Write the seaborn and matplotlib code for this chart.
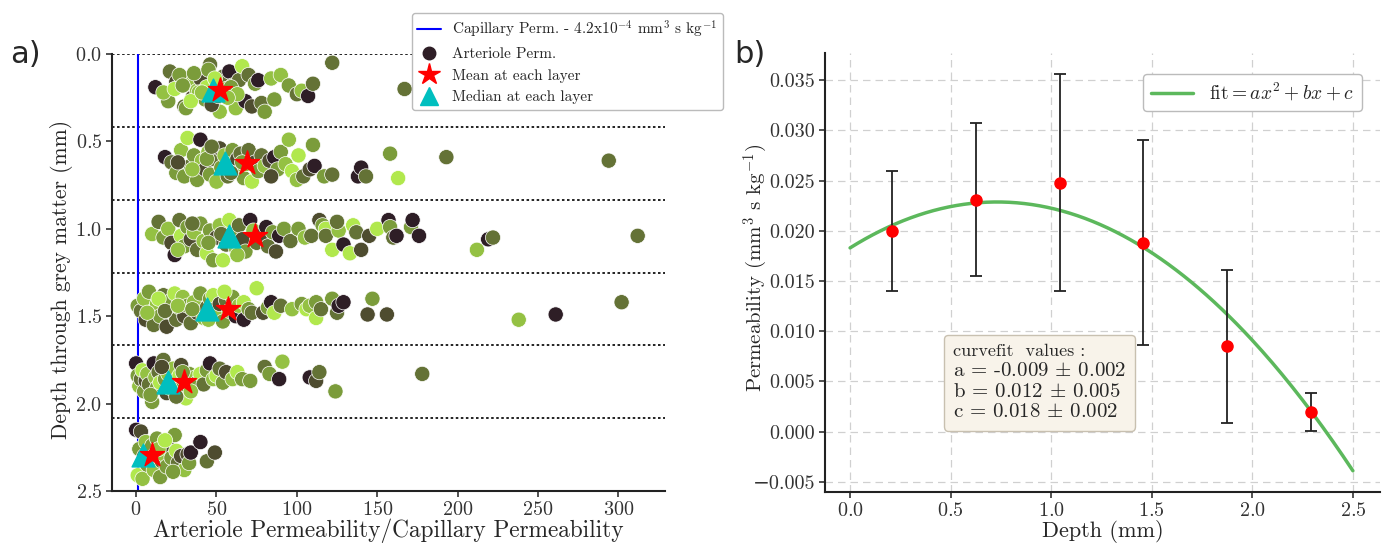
import numpy as np
import pandas as pd
import matplotlib
matplotlib.use("Agg")
import matplotlib.pyplot as plt
from matplotlib.lines import Line2D
from matplotlib.ticker import MultipleLocator
from matplotlib.offsetbox import TextArea, VPacker, AnchoredOffsetbox
import seaborn as sns

# ---- data ----
# layer points: (ratio, depth in mm, shade index 0=darkest..5=lightest)
layer1 = [(12,0.19,0),(21,0.10,2),(20,0.27,3),(25,0.16,1),(17,0.22,4),(28,0.13,3),(30,0.30,2),(24,0.20,5),
          (33,0.17,4),(35,0.25,1),(27,0.12,3),(38,0.21,4),(40,0.14,1),(31,0.31,3),(42,0.24,2),(44,0.19,5),
          (36,0.11,3),(46,0.06,2),(48,0.28,3),(39,0.22,4),(50,0.16,1),(52,0.33,4),(43,0.26,3),(54,0.13,2),
          (56,0.20,4),(47,0.29,1),(58,0.10,0),(60,0.18,3),(51,0.24,2),(62,0.31,4),(64,0.15,2),(55,0.22,4),
          (66,0.07,5),(68,0.27,0),(59,0.19,3),(70,0.12,2),(72,0.30,1),(74,0.17,3),(63,0.23,4),(76,0.15,0),
          (78,0.28,2),(80,0.33,3),(84,0.14,4),(86,0.26,3),(90,0.12,4),(95,0.18,3),(100,0.23,2),(103,0.21,4),
          (107,0.24,0),(110,0.17,2),(122,0.05,2),(167,0.20,2),(45,0.09,3),(34,0.27,5),(29,0.18,3),(57,0.25,4),
          (49,0.14,5),(41,0.22,4)]
layer2 = [(18,0.59,0),(22,0.62,2),(25,0.68,3),(28,0.55,4),(30,0.70,3),(32,0.48,5),(34,0.64,2),(36,0.58,3),
          (38,0.72,3),(40,0.49,0),(41,0.61,4),(43,0.66,1),(45,0.56,4),(46,0.69,3),(48,0.60,2),(50,0.73,4),
          (52,0.54,1),(53,0.65,3),(55,0.58,4),(57,0.70,2),(58,0.62,5),(60,0.55,3),(62,0.67,4),(63,0.60,1),
          (65,0.57,2),(67,0.71,3),(68,0.63,4),(70,0.55,2),(72,0.73,5),(74,0.62,1),(76,0.67,3),(78,0.58,2),
          (80,0.64,4),(83,0.61,1),(86,0.59,0),(88,0.66,3),(90,0.56,3),(93,0.63,4),(95,0.49,4),(97,0.67,5),
          (100,0.72,4),(101,0.58,5),(104,0.70,2),(108,0.66,1),(110,0.52,3),(111,0.64,0),(117,0.70,3),
          (122,0.69,2),(138,0.70,0),(140,0.65,0),(143,0.70,2),(158,0.57,3),(163,0.71,5),(193,0.59,2),
          (294,0.61,2),(26,0.62,1),(35,0.66,4),(44,0.60,3),(47,0.53,2),(59,0.68,2),(66,0.62,3),(84,0.70,1)]
layer3 = [(10,1.03,4),(14,0.96,2),(17,1.05,3),(20,1.00,4),(22,1.08,1),(24,1.15,0),(27,0.95,2),(28,1.04,5),
          (30,1.10,3),(32,0.99,3),(34,1.06,1),(36,1.02,4),(38,1.12,2),(40,0.97,3),(42,1.07,4),(44,1.14,5),
          (46,1.01,3),(48,1.18,3),(50,1.05,1),(52,0.98,4),(54,1.18,5),(56,1.09,2),(58,0.95,5),(60,1.03,3),
          (62,1.11,4),(64,0.98,2),(66,1.06,1),(68,1.13,3),(71,0.95,0),(73,1.01,4),(75,1.08,2),(78,1.04,1),
          (81,0.99,0),(82,1.10,2),(85,1.02,3),(87,1.13,1),(89,1.04,0),(92,1.00,3),(96,1.07,2),(101,1.00,3),
          (105,1.05,4),(109,1.04,2),(114,0.95,1),(116,0.98,3),(118,1.00,5),(118,1.04,2),(122,1.12,5),
          (126,1.01,4),(129,1.09,0),(125,0.96,2),(133,1.14,5),(135,0.98,5),(137,1.02,2),(140,1.12,1),
          (145,1.04,1),(150,1.00,5),(157,0.95,0),(158,0.99,3),(160,1.05,2),(162,1.04,0),(171,0.99,3),
          (172,0.95,0),(176,1.04,0),(212,1.12,4),(219,1.06,0),(222,1.05,2),(312,1.04,2),(26,1.12,4),
          (45,1.08,3),(35,0.97,2),(63,1.15,4),(53,1.03,2)]
layer4 = [(1,1.44,3),(3,1.47,2),(5,1.40,4),(6,1.52,1),(8,1.36,3),(10,1.49,0),(11,1.55,2),(13,1.43,4),
          (15,1.50,3),(17,1.38,2),(19,1.56,1),(20,1.46,4),(22,1.41,3),(24,1.37,5),(25,1.52,2),(27,1.45,3),
          (29,1.39,4),(30,1.50,1),(32,1.44,3),(34,1.54,2),(36,1.42,4),(38,1.48,1),(40,1.37,3),(42,1.51,4),
          (44,1.45,2),(46,1.40,3),(48,1.38,5),(50,1.49,4),(52,1.43,1),(54,1.53,3),(56,1.41,2),(58,1.47,4),
          (60,1.39,3),(62,1.50,0),(64,1.44,4),(67,1.42,5),(67,1.52,0),(70,1.46,3),(72,1.48,2),(75,1.34,5),
          (79,1.48,1),(82,1.45,3),(84,1.42,0),(86,1.48,5),(90,1.44,2),(97,1.46,4),(103,1.43,3),(106,1.46,5),
          (108,1.44,4),(112,1.42,3),(112,1.51,5),(115,1.46,2),(122,1.40,3),(125,1.48,2),(126,1.44,0),
          (129,1.42,0),(144,1.49,1),(147,1.40,3),(156,1.49,1),(238,1.52,4),(261,1.49,0),(302,1.42,2),
          (7,1.48,4),(14,1.40,5),(18,1.47,2),(26,1.44,4),(35,1.46,3),(45,1.52,4),(55,1.36,5)]
layer5 = [(0,1.77,0),(1,1.84,3),(2,1.90,4),(3,1.86,2),(4,1.81,5),(5,1.93,3),(6,1.87,1),(7,1.83,4),
          (8,1.89,2),(10,1.99,3),(11,1.77,0),(12,1.85,4),(13,1.91,3),(14,1.82,2),(15,1.88,5),(17,1.75,2),
          (18,1.86,3),(19,1.94,1),(20,1.83,4),(22,1.89,3),(23,1.80,4),(24,1.87,2),(26,1.92,3),(27,1.84,5),
          (28,1.78,1),(30,1.86,4),(31,1.97,5),(33,1.83,3),(35,1.89,2),(37,1.85,4),(38,1.88,3),(40,1.83,5),
          (42,1.89,2),(44,1.81,3),(46,1.77,0),(48,1.86,4),(50,1.84,5),(52,1.80,2),(54,1.88,3),(56,1.82,1),
          (60,1.86,4),(63,1.82,5),(66,1.86,3),(71,1.87,3),(80,1.79,2),(83,1.83,3),(89,1.86,0),(91,1.76,4),
          (108,1.85,0),(112,1.87,1),(114,1.82,2),(124,1.93,3),(178,1.83,2),(9,1.95,3),(16,1.79,1),
          (21,1.91,4),(25,1.96,2),(29,1.82,3),(34,1.93,4)]
layer6 = [(0,2.15,0),(3,2.16,1),(1,2.41,5),(2,2.26,3),(4,2.43,4),(5,2.30,2),(6,2.22,4),(7,2.35,3),
          (8,2.27,5),(9,2.32,2),(10,2.24,3),(11,2.38,4),(12,2.29,1),(13,2.20,3),(15,2.42,3),(16,2.33,2),
          (17,2.29,4),(19,2.36,3),(20,2.25,1),(22,2.31,3),(24,2.18,3),(25,2.27,5),(26,2.34,2),(28,2.30,1),
          (30,2.38,4),(32,2.29,1),(33,2.34,3),(34,2.28,0),(40,2.22,0),(44,2.33,2),(49,2.28,1),(14,2.26,4),
          (18,2.21,5),(23,2.39,3)]

layer_bounds = [0.0, 0.417, 0.833, 1.25, 1.667, 2.083]
layer_centres = [0.208, 0.625, 1.042, 1.458, 1.875, 2.292]
mean_ratio = [52, 69, 74, 57, 30, 10]
median_ratio = [48, 55, 58, 44, 20, 4.5]

# panel b
perm_mean = [0.0200, 0.0231, 0.0248, 0.0188, 0.0085, 0.0020]
perm_err = [0.0060, 0.0076, 0.0108, 0.0102, 0.0076, 0.0019]
fit_abc = [-0.00855, 0.0125, 0.0183]
fit_title = "curvefit  values :"
fit_lines = [r"a = -0.009 $\pm$ 0.002", r"b = 0.012 $\pm$ 0.005", r"c = 0.018 $\pm$ 0.002"]

shades = ['#2e1e26', '#4e4c2f', '#647236', '#7b9c3b', '#94c143', '#b1e84d']

# ---- style ----
sns.set_theme(style="ticks")
plt.rcParams['font.family'] = ['cmr10', 'DejaVu Serif']
plt.rcParams['mathtext.fontset'] = 'cm'
plt.rcParams['axes.formatter.use_mathtext'] = True
plt.rcParams['axes.unicode_minus'] = True

fig = plt.figure(figsize=(13.86, 5.44), dpi=100)
ax1 = fig.add_axes([0.0808, 0.0974, 0.399, 0.8033])
ax2 = fig.add_axes([0.5952, 0.0956, 0.4005, 0.807])

# ---- panel a ----
rows = []
for layer in [layer1, layer2, layer3, layer4, layer5, layer6]:
    for r, d, s in layer:
        rows.append({'ratio': r, 'depth': d, 'shade': s})
pts = pd.DataFrame(rows)

for b in layer_bounds:
    ax1.axhline(b, color='#222222', ls=(0, (1.3, 1.3)), lw=1.4, zorder=1)
ax1.axvline(1, color='blue', lw=1.5, zorder=2)
sns.scatterplot(data=pts, x='ratio', y='depth', hue='shade', palette=shades, s=120,
                edgecolor='white', linewidth=0.5, legend=False, ax=ax1, zorder=3)
ax1.scatter(median_ratio, layer_centres, marker='^', s=270, color='#00bfbf', zorder=5)
ax1.scatter(mean_ratio, layer_centres, marker='*', s=330, color='red', zorder=6)

ax1.set_xlim(-15, 329)
ax1.set_ylim(2.5, 0)
ax1.set_xticks(np.arange(0, 301, 50))
ax1.set_yticks(np.arange(0, 2.51, 0.5))
ax1.set_xlabel('Arteriole Permeability/Capillary Permeability', fontsize=16.8, labelpad=0)
ax1.set_ylabel('Depth through grey matter (mm)', fontsize=15.5)
ax1.yaxis.set_label_coords(-0.07, 0.485)
sns.despine(ax=ax1)

handles = [
    Line2D([], [], color='blue', lw=1.5, label=r'Capillary Perm. - 4.2x10$^{-4}$ mm$^3$ s kg$^{-1}$'),
    Line2D([], [], color=shades[0], marker='o', ls='none', ms=9, label='Arteriole Perm.'),
    Line2D([], [], color='red', marker='*', ls='none', ms=16, label='Mean at each layer'),
    Line2D([], [], color='#00bfbf', marker='^', ls='none', ms=13, label='Median at each layer'),
]
fig.legend(handles=handles, loc='upper left', bbox_to_anchor=(0.2915, 0.99), fontsize=11,
           frameon=True, fancybox=True, edgecolor='#bbbbbb', framealpha=1, borderpad=0.35,
           labelspacing=0.5, handlelength=1.6, handletextpad=0.7)

# ---- panel b ----
xfit = np.linspace(0, 2.5, 200)
yfit = fit_abc[0] * xfit ** 2 + fit_abc[1] * xfit + fit_abc[2]
ax2.grid(True, ls=(0, (6, 4)), color='#d0d0d0', lw=0.9)
ax2.set_axisbelow(True)
sns.lineplot(x=xfit, y=yfit, color='#5cb85c', lw=2.5, ax=ax2, label=r'$\mathrm{fit} = ax^2 + bx + c$')
ax2.errorbar(layer_centres, perm_mean, yerr=perm_err, fmt='o', color='red', ms=8,
             ecolor='#222222', elinewidth=1.3, capsize=4, capthick=1.3, zorder=5)
ax2.set_xlim(-0.125, 2.635)
ax2.set_ylim(-0.006, 0.0377)
ax2.xaxis.set_major_locator(MultipleLocator(0.5))
ax2.yaxis.set_major_locator(MultipleLocator(0.005))
ax2.yaxis.set_major_formatter(plt.FuncFormatter(lambda v, p: f"{v:.3f}".replace('-', '\u2212')))
ax2.set_xlabel('Depth (mm)', fontsize=16, labelpad=0)
ax2.set_ylabel(r'Permeability (mm$^3$ s kg$^{-1}$)', fontsize=15)
ax2.yaxis.set_label_coords(-0.099, 0.51)
ax2.legend(loc='upper right', bbox_to_anchor=(0.985, 0.975), fontsize=14, frameon=True, fancybox=True,
           edgecolor='#bbbbbb', framealpha=1, handlelength=2.2)

box_items = [TextArea(fit_title, textprops=dict(size=13))]
box_items += [TextArea(t, textprops=dict(size=15)) for t in fit_lines]
pack = VPacker(children=box_items, align='left', pad=0, sep=2)
anch = AnchoredOffsetbox(loc='upper left', child=pack, pad=0.3, borderpad=0, frameon=True,
                         bbox_to_anchor=(0.222, 0.348), bbox_transform=ax2.transAxes)
anch.patch.set_boxstyle('round,pad=0.3')
anch.patch.set_facecolor('#f8f3ea')
anch.patch.set_edgecolor('#c8c0b0')
ax2.add_artist(anch)
sns.despine(ax=ax2)

for ax in (ax1, ax2):
    ax.tick_params(labelsize=14.5, colors='#333333', direction='out', length=4, width=1.2, pad=3)
    for sp in ax.spines.values():
        sp.set_linewidth(1.5)
        sp.set_color('#222222')

fig.text(0.007, 0.90, 'a)', fontsize=22, family='DejaVu Sans', va='center')
fig.text(0.530, 0.90, 'b)', fontsize=22, family='DejaVu Sans', va='center', zorder=10)

fig.savefig('out.png', dpi=100)
